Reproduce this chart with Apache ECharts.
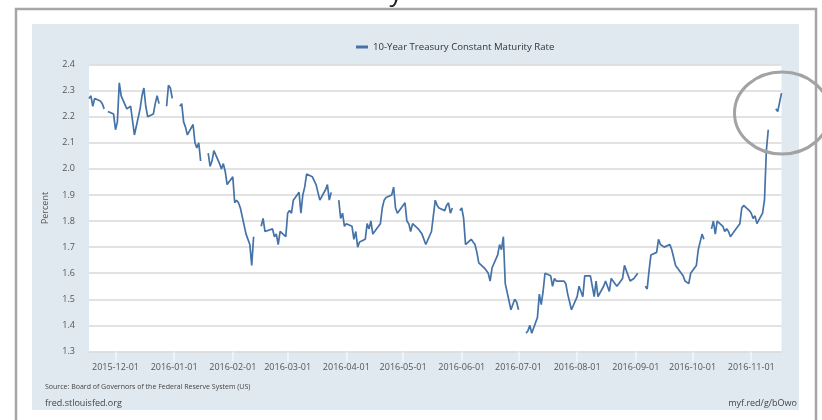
<!DOCTYPE html>
<html>
<head>
<meta charset="utf-8">
<script src="https://cdn.jsdelivr.net/npm/echarts@6/dist/echarts.min.js"></script>
<style>
  html, body { margin: 0; padding: 0; background: #fff; }
  #chart { width: 822px; height: 420px; }
</style>
</head>
<body>
<div id="chart"></div>
<script>
// 10-year treasury, business days only, null = market holiday
var nov2015 = [2.27, 2.28, 2.24, 2.27, 2.26, 2.25, 2.23, null, 2.22, 2.21];
var dec2015 = [2.15, 2.18, 2.33, 2.28, 2.23, 2.23, 2.24, 2.24, 2.13, 2.23, 2.28, 2.31, 2.24, 2.20,
               2.21, 2.25, 2.28, 2.25, null, 2.24, 2.32, 2.31, 2.27];
var jan2016 = [null, 2.24, 2.25, 2.18, 2.16, 2.13, 2.17, 2.10, 2.08, 2.10, 2.03, null, 2.06, 2.01,
               2.03, 2.07, 2.02, 2.00, 2.02, 1.99, 1.94];
var feb2016 = [1.97, 1.87, 1.88, 1.87, 1.85, 1.75, 1.75, 1.71, 1.63, 1.74, null, 1.78, 1.81, 1.76,
               1.76, 1.77, 1.74, 1.75, 1.71, 1.76, 1.74];
var mar2016 = [1.83, 1.84, 1.83, 1.88, 1.91, 1.83, 1.90, 1.93, 1.98, 1.97, 1.97, 1.94, 1.91, 1.88,
               1.92, 1.94, 1.88, 1.91, null, 1.88, 1.81, 1.83, 1.78];
var apr2016 = [1.79, 1.78, 1.73, 1.76, 1.70, 1.72, 1.73, 1.79, 1.77, 1.80, 1.75, 1.78, 1.79, 1.85,
               1.88, 1.89, 1.90, 1.93, 1.85, 1.83, 1.83];
var may2016 = [1.87, 1.80, 1.79, 1.76, 1.79, 1.77, 1.77, 1.75, 1.75, 1.71, 1.76, 1.76, 1.88, 1.86,
               1.85, 1.84, 1.86, 1.87, 1.83, 1.85, null, 1.84];
var jun2016 = [1.85, 1.81, 1.71, 1.73, 1.72, 1.71, 1.68, 1.64, 1.62, 1.61, 1.60, 1.57, 1.62, 1.67,
               1.71, 1.69, 1.74, 1.56, 1.46, 1.46, 1.50, 1.49];
var jul2016 = [1.46, null, 1.37, 1.38, 1.40, 1.37, 1.43, 1.52, 1.48, 1.53, 1.60, 1.59, 1.55, 1.58,
               1.57, 1.57, 1.57, 1.56, 1.52, 1.52, 1.46];
var aug2016 = [1.51, 1.55, 1.55, 1.51, 1.59, 1.59, 1.55, 1.51, 1.57, 1.51, 1.55, 1.57, 1.55, 1.53,
               1.58, 1.55, 1.56, 1.56, 1.58, 1.63, 1.57, 1.57, 1.58];
var sep2016 = [1.58, 1.60, null, 1.55, 1.54, 1.61, 1.67, 1.68, 1.73, 1.71, 1.71, 1.70, 1.71, 1.69,
               1.66, 1.63, 1.62, 1.59, 1.57, 1.57, 1.56, 1.60];
var oct2016 = [1.63, 1.69, 1.72, 1.75, 1.73, null, 1.77, 1.80, 1.75, 1.80, 1.78, 1.76, 1.77, 1.76,
               1.74, 1.77, 1.78, 1.79, 1.85, 1.86, 1.84];
var nov2016 = [1.83, 1.81, 1.82, 1.79, 1.83, 1.88, 2.07, 2.15, null, 2.23, 2.22, 2.22, 2.29];

var seriesName = '10-Year Treasury Constant Maturity Rate';
var yTicks = [1.3, 2.4, 0.1];  // min, max, step
var firstDay = [2015, 11, 17];
var lastDay = [2016, 11, 17];

var rates = [].concat(nov2015, dec2015, jan2016, feb2016, mar2016, apr2016, may2016,
                      jun2016, jul2016, aug2016, sep2016, oct2016, nov2016);

function pad(n) { return n < 10 ? '0' + n : '' + n; }

// weekdays starting at firstDay, one per value
function weekdays(from, n) {
    var out = [];
    var d = new Date(from[0], from[1] - 1, from[2]);
    while (out.length < n) {
        var w = d.getDay();
        if (w !== 0 && w !== 6) {
            out.push(d.getFullYear() + '-' + pad(d.getMonth() + 1) + '-' + pad(d.getDate()));
        }
        d.setDate(d.getDate() + 1);
    }
    return out;
}

var days = weekdays(firstDay, rates.length);
var points = days.map(function (t, i) { return [t, rates[i]]; });

var myChart = echarts.init(document.getElementById('chart'));
var font = "'Open Sans', sans-serif";

var option = {
    animation: false,
    textStyle: { fontFamily: font },
    legend: {
        left: 351,
        top: 37,
        icon: 'rect',
        itemWidth: 12,
        itemHeight: 3,
        textStyle: { fontSize: 9.6, color: '#333', fontFamily: font },
        data: [seriesName]
    },
    grid: {
        left: 89,
        right: 40.5,
        top: 64.5,
        bottom: 68.5,
        show: true,
        backgroundColor: '#ffffff',
        borderWidth: 0
    },
    xAxis: {
        type: 'time',
        min: +new Date(firstDay[0], firstDay[1] - 1, firstDay[2]),
        max: +new Date(lastDay[0], lastDay[1] - 1, lastDay[2]),
        minInterval: 28 * 864e5,
        maxInterval: 31 * 864e5,
        splitLine: { show: false },
        axisLine: { show: false },
        axisTick: { show: true, length: 10, lineStyle: { color: '#f2f6f9', width: 1.5 } },
        axisLabel: {
            formatter: '{yyyy}-{MM}-{dd}',
            margin: 11,
            fontSize: 9,
            color: '#555',
            fontFamily: font,
            showMinLabel: false,
            showMaxLabel: false
        }
    },
    yAxis: {
        type: 'value',
        min: yTicks[0],
        max: yTicks[1],
        interval: yTicks[2],
        name: 'Percent',
        nameLocation: 'middle',
        nameGap: 39,
        nameTextStyle: { fontSize: 9, color: '#555', fontFamily: font },
        axisLine: { show: false },
        axisTick: { show: false },
        axisLabel: {
            formatter: function (v) { return v.toFixed(1); },
            margin: 14,
            fontSize: 9,
            color: '#555',
            fontFamily: font
        },
        splitLine: { lineStyle: { color: '#d9d9d9', width: 1.5 } }
    },
    series: [{
        name: seriesName,
        type: 'line',
        data: points,
        showSymbol: false,
        connectNulls: false,
        color: '#4572a7',
        lineStyle: { color: '#4572a7', width: 1.7 }
    }],
    graphic: [
        { type: 'rect', z: -10, shape: { x: 32, y: 24, width: 767, height: 386 },
          style: { fill: '#e1e9f0' } },
        { type: 'rect', z: -10, shape: { x: 16, y: 9, width: 800, height: 440 },
          style: { fill: 'none', stroke: '#a6a6a6', lineWidth: 2.5 } },
        { type: 'text', z: 10, x: 396, y: 7,
          style: { text: 'y', fontSize: 26, fontFamily: font, fill: '#222', align: 'center', verticalAlign: 'bottom' } },
        { type: 'text', z: 10, x: 45, y: 387,
          style: { text: 'Source: Board of Governors of the Federal Reserve System (US)', fontSize: 7,
                   fontFamily: font, fill: '#444', verticalAlign: 'middle' } },
        { type: 'text', z: 10, x: 45, y: 403,
          style: { text: 'fred.stlouisfed.org', fontSize: 9, fontFamily: font, fill: '#444', verticalAlign: 'middle' } },
        { type: 'text', z: 10, x: 797, y: 403,
          style: { text: 'myf.red/g/bOwo', fontSize: 9, fontFamily: font, fill: '#444',
                   align: 'right', verticalAlign: 'middle' } },
        { type: 'ellipse', z: 100, shape: { cx: 782, cy: 113, rx: 47.5, ry: 41 },
          style: { fill: 'none', stroke: '#a3a3a3', lineWidth: 3 } }
    ]
};

myChart.setOption(option);
</script>
</body>
</html>
